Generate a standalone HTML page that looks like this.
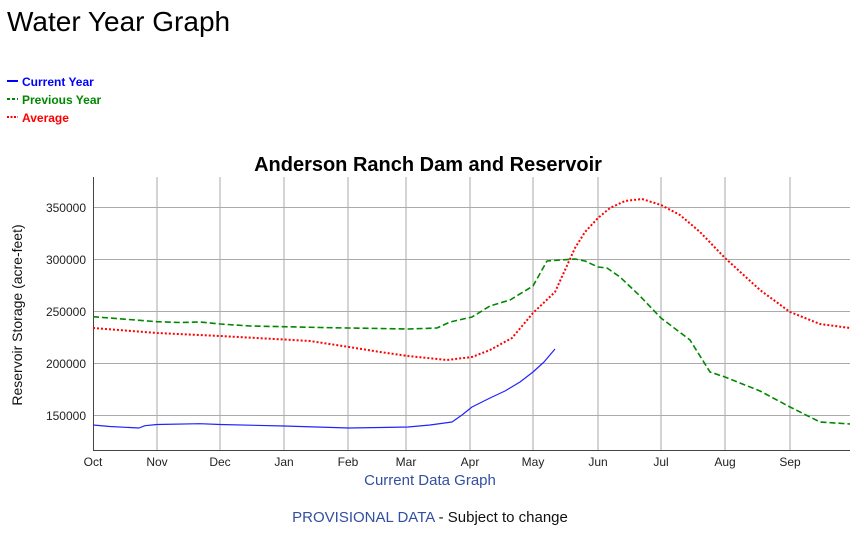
<!DOCTYPE html>
<html><head><meta charset="utf-8"><style>
body{margin:0;width:865px;height:534px;background:#fff;font-family:"Liberation Sans",Arial,sans-serif;overflow:hidden}
</style></head><body>
<svg width="865" height="534" xmlns="http://www.w3.org/2000/svg" font-family="Liberation Sans, Arial, sans-serif">
<text x="7" y="31" font-size="28" fill="#000">Water Year Graph</text>
<line x1="7" y1="81" x2="18" y2="81" stroke="#00f" stroke-width="2"/>
<text x="22" y="86" font-size="12" font-weight="bold" fill="#00f">Current Year</text>
<line x1="7" y1="99" x2="18" y2="99" stroke="#080" stroke-width="2" stroke-dasharray="3,2"/>
<text x="22" y="104" font-size="12" font-weight="bold" fill="#080">Previous Year</text>
<line x1="7" y1="117" x2="18" y2="117" stroke="#f00" stroke-width="2" stroke-dasharray="2,1.5"/>
<text x="22" y="122" font-size="12" font-weight="bold" fill="#f00">Average</text>
<text x="428" y="171" font-size="20" font-weight="bold" text-anchor="middle">Anderson Ranch Dam and Reservoir</text>
<g stroke="#aaa" stroke-width="1">
<line x1="157" y1="177" x2="157" y2="450"/><line x1="220" y1="177" x2="220" y2="450"/><line x1="284" y1="177" x2="284" y2="450"/><line x1="348" y1="177" x2="348" y2="450"/><line x1="406" y1="177" x2="406" y2="450"/><line x1="470" y1="177" x2="470" y2="450"/><line x1="533" y1="177" x2="533" y2="450"/><line x1="598" y1="177" x2="598" y2="450"/><line x1="661" y1="177" x2="661" y2="450"/><line x1="725" y1="177" x2="725" y2="450"/><line x1="790" y1="177" x2="790" y2="450"/>
<line x1="93" y1="207.5" x2="850" y2="207.5"/><line x1="93" y1="259.5" x2="850" y2="259.5"/><line x1="93" y1="311.5" x2="850" y2="311.5"/><line x1="93" y1="363.5" x2="850" y2="363.5"/><line x1="93" y1="415.5" x2="850" y2="415.5"/>
</g>
<g stroke="#444" stroke-width="1"><line x1="93.5" y1="177" x2="93.5" y2="450"/><line x1="93" y1="450.5" x2="850" y2="450.5"/></g>
<g font-size="12" text-anchor="end" fill="#222">
<text x="86" y="212">350000</text><text x="86" y="264">300000</text><text x="86" y="316">250000</text><text x="86" y="368">200000</text><text x="86" y="420">150000</text>
</g>
<g font-size="12" text-anchor="middle" fill="#222">
<text x="93" y="466">Oct</text><text x="157" y="466">Nov</text><text x="220" y="466">Dec</text><text x="284" y="466">Jan</text><text x="348" y="466">Feb</text><text x="406" y="466">Mar</text><text x="470" y="466">Apr</text><text x="533" y="466">May</text><text x="598" y="466">Jun</text><text x="661" y="466">Jul</text><text x="725" y="466">Aug</text><text x="790" y="466">Sep</text>
</g>
<text transform="translate(22,315) rotate(-90)" font-size="14" text-anchor="middle" fill="#111">Reservoir Storage (acre-feet)</text>
<polyline fill="none" stroke="#080" stroke-width="1.6" stroke-dasharray="6,3" stroke-linejoin="round" points="93,316.7 157,321.7 180,322.5 200,322 220,324 250,326 284,326.7 320,327.5 349,328 380,328.5 408,329 437,328 450,322 472,317 490,306 510,300 533,286 547,261 560,260 575,259 585,261 598,267 607,268 620,277 640,296 661,318 690,340 710,372 725,377 760,391 790,407 820,422 850,424"/>
<polyline fill="none" stroke="#f00" stroke-width="2" stroke-dasharray="2,2" stroke-linejoin="round" points="93,328 157,333 220,336 284,339.5 310,341 349,347 380,352 408,356 447,360 472,357 490,350 512,338 533,313 555,292 575,248 585,232 598,218 610,208 625,201 642,199 661,205 680,215 700,232 725,258 760,290 790,312 820,324 850,328"/>
<polyline fill="none" stroke="#22f" stroke-width="1.2" stroke-linejoin="round" points="93,425 110,426.5 139,428 145,425.7 157,424.5 200,423.7 220,424.5 284,426 349,428 380,427.5 408,427 430,425 452,422 462,415 472,407 490,398 505,391 520,382 533,372 544,362 555,349"/>
<text x="430" y="485" font-size="15" text-anchor="middle" fill="#334fa0">Current Data Graph</text>
<text x="430" y="522" font-size="15" text-anchor="middle" fill="#111"><tspan fill="#334fa0">PROVISIONAL DATA</tspan> - Subject to change</text>
</svg>
</body></html>
